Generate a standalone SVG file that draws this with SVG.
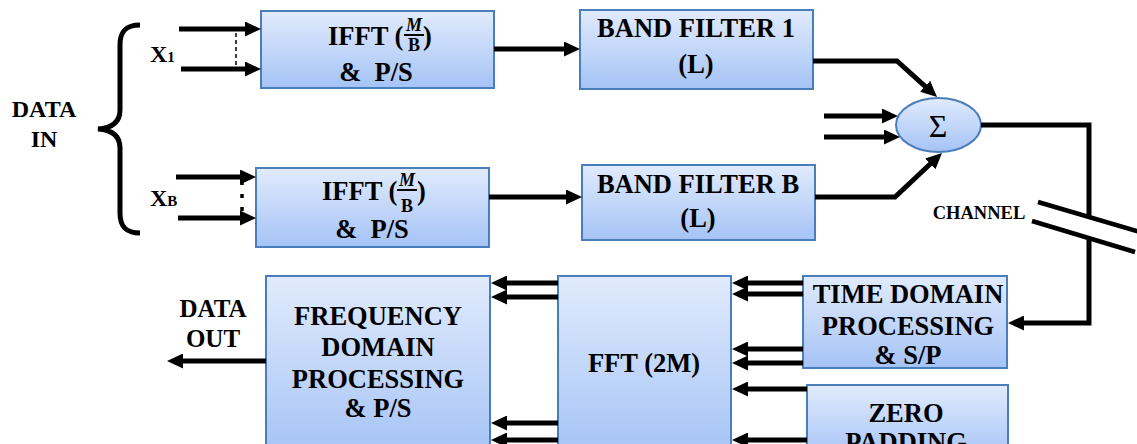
<svg xmlns="http://www.w3.org/2000/svg" width="1137" height="444" viewBox="0 0 1137 444">
<defs>
<linearGradient id="g" x1="0" y1="0" x2="0" y2="1">
<stop offset="0" stop-color="#e1ebfc"/>
<stop offset="1" stop-color="#a5c3f6"/>
</linearGradient>
<marker id="ah" markerUnits="userSpaceOnUse" markerWidth="16" markerHeight="15" refX="6" refY="7.5" orient="auto">
<path d="M0,0 L16,7.5 L0,15 Z" fill="#000"/>
</marker>
<style>
.box{fill:url(#g);stroke:#4a7ebb;stroke-width:2}
text{font-family:'Liberation Serif','DejaVu Serif','Times New Roman',serif}
.t{font-weight:bold;font-size:26.5px;fill:#000;text-anchor:middle}
.ts{font-weight:bold;fill:#000}
.c{fill:none;stroke:#000;stroke-width:5}
.a{fill:none;stroke:#000;stroke-width:5;marker-end:url(#ah)}
</style>
</defs>
<rect width="1137" height="444" fill="#fff"/>

<g id="data-in">
<path class="c" d="M140,25 C126,25 120,31 120,45 L120,110 C120,122 112,128 98,129 C112,130 120,136 120,148 L120,213 C120,227 126,233 140,233"/>
<text class="t" style="font-size:24px" x="44" y="117">DATA</text>
<text class="t" style="font-size:24px" x="44" y="147">IN</text>
<text class="ts" style="font-size:24px" x="150" y="62">X<tspan style="font-size:15px">1</tspan></text>
<text class="ts" style="font-size:24px" x="150" y="206">X<tspan style="font-size:15px">B</tspan></text>
</g>

<g id="ifft1">
<rect class="box" x="261" y="11" width="233" height="77"/>
<text class="ts" style="font-size:26.5px" x="328" y="45">IFFT (</text>
<text class="ts" style="font-size:18px;font-style:italic;text-anchor:middle" x="414" y="31">M</text>
<line x1="404" y1="35" x2="424" y2="35" stroke="#000" stroke-width="2"/>
<text class="ts" style="font-size:18px;text-anchor:middle" x="414" y="51">B</text>
<text class="ts" style="font-size:26.5px" x="423" y="45">)</text>
<text class="t" x="376" y="81" xml:space="preserve">&amp;  P/S</text>
</g>

<g id="ifftB">
<rect class="box" x="256" y="168" width="233" height="79"/>
<text class="ts" style="font-size:26.5px" x="322" y="200">IFFT (</text>
<text class="ts" style="font-size:18px;font-style:italic;text-anchor:middle" x="407" y="186">M</text>
<line x1="397" y1="190" x2="417" y2="190" stroke="#000" stroke-width="2"/>
<text class="ts" style="font-size:18px;text-anchor:middle" x="407" y="212">B</text>
<text class="ts" style="font-size:26.5px" x="417" y="200">)</text>
<text class="t" x="372" y="238" xml:space="preserve">&amp;  P/S</text>
</g>

<g id="bf1">
<rect class="box" x="580" y="10" width="233" height="79"/>
<text class="t" x="696" y="37">BAND FILTER 1</text>
<text class="t" x="696" y="73">(L)</text>
</g>

<g id="bfB">
<rect class="box" x="582" y="165" width="233" height="75"/>
<text class="t" x="698" y="193">BAND FILTER B</text>
<text class="t" x="698" y="227">(L)</text>
</g>

<g id="sum">
<ellipse cx="938.5" cy="125" rx="42.5" ry="27" fill="url(#g)" stroke="#4a7ebb" stroke-width="2"/>
<text x="938" y="137" style="font-size:32px;text-anchor:middle">Σ</text>
</g>

<g id="channel">
<text class="ts" style="font-size:18.5px;text-anchor:middle" x="979" y="219">CHANNEL</text>
<line x1="1038" y1="202" x2="1140" y2="232" stroke="#000" stroke-width="4.5"/>
<line x1="1032" y1="221" x2="1135" y2="252" stroke="#000" stroke-width="4.5"/>
</g>

<g id="tdp">
<rect class="box" x="803" y="276" width="204" height="92"/>
<text class="t" x="908" y="303">TIME DOMAIN</text>
<text class="t" x="908" y="335">PROCESSING</text>
<text class="t" x="908" y="364">&amp; S/P</text>
</g>

<g id="zero">
<rect class="box" x="807" y="385" width="201" height="75"/>
<text class="t" x="906" y="422">ZERO</text>
<text class="t" x="906" y="451">PADDING</text>
</g>

<g id="fft">
<rect class="box" x="558" y="276" width="173" height="180"/>
<text class="t" x="644" y="372">FFT (2M)</text>
</g>

<g id="fdp">
<rect class="box" x="266" y="276" width="224" height="180"/>
<text class="t" x="378" y="325">FREQUENCY</text>
<text class="t" x="378" y="356">DOMAIN</text>
<text class="t" x="378" y="388">PROCESSING</text>
<text class="t" x="378" y="417">&amp; P/S</text>
</g>

<g id="data-out">
<text class="t" style="font-size:25px" x="213" y="317">DATA</text>
<text class="t" style="font-size:25px" x="213" y="347">OUT</text>
</g>

<g id="connectors">
<line class="a" x1="179" y1="29" x2="251" y2="29"/>
<line class="a" x1="181" y1="69" x2="251" y2="69"/>
<line class="a" x1="176" y1="177" x2="246" y2="177"/>
<line class="a" x1="178" y1="218" x2="246" y2="218"/>
<line x1="236" y1="33" x2="236" y2="66" stroke="#000" stroke-width="1.5" stroke-dasharray="4 3"/>
<line x1="242" y1="181" x2="242" y2="214" stroke="#000" stroke-width="3.5" stroke-dasharray="4 9"/>
<line class="a" x1="494" y1="49" x2="570" y2="49"/>
<line class="a" x1="489" y1="197" x2="572" y2="197"/>
<polyline class="a" points="813,61 897,61 929.6,90.3"/>
<polyline class="a" points="815,197 895,197 934.7,159.8"/>
<line class="a" x1="824" y1="116" x2="888" y2="116"/>
<line class="a" x1="824" y1="137" x2="890" y2="137"/>
<polyline class="c" points="981,125 1089,125 1089,217"/>
<polyline class="a" points="1089,238 1089,323 1018,323"/>
<line class="a" x1="558" y1="283" x2="501" y2="283"/>
<line class="a" x1="558" y1="297" x2="501" y2="297"/>
<line class="a" x1="558" y1="423" x2="501" y2="423"/>
<line class="a" x1="558" y1="440" x2="501" y2="440"/>
<line class="a" x1="803" y1="283" x2="742" y2="283"/>
<line class="a" x1="803" y1="294" x2="742" y2="294"/>
<line class="a" x1="803" y1="349" x2="742" y2="349"/>
<line class="a" x1="803" y1="363" x2="742" y2="363"/>
<line class="a" x1="807" y1="389" x2="742" y2="389"/>
<line class="a" x1="807" y1="440" x2="742" y2="440"/>
<line class="a" x1="266" y1="361" x2="177" y2="361"/>
</g>
</svg>
